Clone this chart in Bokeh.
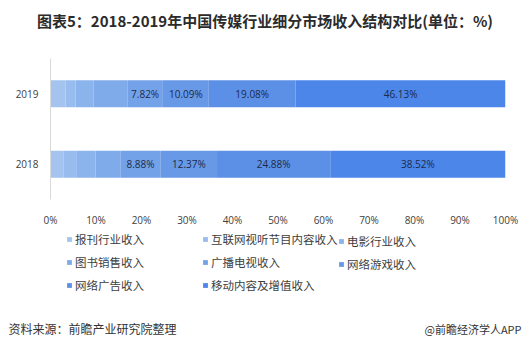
from bokeh.plotting import figure
from bokeh.layouts import column
from bokeh.models import ColumnDataSource, FactorRange, Range1d, FixedTicker, PrintfTickFormatter, Legend, LegendItem, Label
from bokeh.core.properties import value
from bokeh.embed import file_html
from bokeh.resources import INLINE

years = ["2018", "2019"]
segments = ["报刊行业收入", "互联网视听节目内容收入", "电影行业收入", "图书销售收入",
            "广播电视收入", "网络游戏收入", "网络广告收入", "移动内容及增值收入"]
share_2018 = [2.9, 2.9, 4.1, 5.45, 8.88, 12.37, 24.88, 38.52]
share_2019 = [3.3, 2.2, 4.0, 7.38, 7.82, 10.09, 19.08, 46.13]
labeled = [False, False, False, False, True, True, True, True]
colors = ["#a4c4ef", "#98bcee", "#8bb3ec", "#7fabea", "#74a2e8", "#6899e7", "#5b90e6", "#4c86e8"]
x_ticks = [0, 10, 20, 30, 40, 50, 60, 70, 80, 90, 100]
title_text = "图表5：2018-2019年中国传媒行业细分市场收入结构对比(单位：%)"
source_text = "资料来源：前瞻产业研究院整理"
app_text = "@前瞻经济学人APP"

W = 529
H_TOP, H_MAIN, H_BOT = 44, 185, 122
CJK = "Noto Sans CJK SC"
NAN = float("nan")


def blank(h):
    f = figure(width=W, height=h, output_backend="svg", toolbar_location=None,
               x_axis_type=None, y_axis_type=None, x_range=Range1d(0, 1), y_range=Range1d(0, 1),
               min_border=0, min_border_left=0, min_border_right=0,
               min_border_top=0, min_border_bottom=0, frame_align=False)
    f.outline_line_color = None
    f.grid.visible = False
    f.border_fill_color = "white"
    f.background_fill_color = "white"
    return f


# ---- title strip ----
top = blank(H_TOP)
top.add_layout(Label(x=W / 2, y=H_TOP - 20, x_units="screen", y_units="screen", text=title_text,
                     text_align="center", text_baseline="middle", text_font=CJK,
                     text_font_size="15px", text_font_style="bold", text_color="#2b2b2b"))

# ---- main chart ----
p = figure(width=W, height=H_MAIN, output_backend="svg", toolbar_location=None,
           y_range=FactorRange(factors=years), x_range=Range1d(0, 100), frame_align=False,
           min_border_left=50, min_border_right=24, min_border_top=14, min_border_bottom=28)
p.outline_line_color = None
p.background_fill_color = "white"
p.border_fill_color = "white"
p.grid.visible = False

keys = [f"s{i}" for i in range(len(segments))]
data = {"year": years}
for i, k in enumerate(keys):
    data[k] = [share_2018[i], share_2019[i]]
src = ColumnDataSource(data)
p.hbar_stack(keys, y="year", height=0.38, color=colors, source=src, line_color=None)

lx, ly, lt = [], [], []
for yr, vals in zip(years, [share_2018, share_2019]):
    cum = 0
    for i, v in enumerate(vals):
        if labeled[i]:
            lx.append(cum + v / 2)
            ly.append(yr)
            lt.append(f"{v:.2f}%")
        cum += v
p.text(x=lx, y=ly, text=lt, text_align="center", text_baseline="middle",
       text_font=value("Open Sans"), text_font_size="10px", text_color="#1c2b4a")

p.xaxis.ticker = FixedTicker(ticks=x_ticks)
p.xaxis.formatter = PrintfTickFormatter(format="%d%%")
p.xaxis.axis_line_color = None
p.xaxis.major_tick_line_color = None
p.xaxis.minor_tick_line_color = None
p.xaxis.major_label_standoff = 7
p.xaxis.major_label_text_font = "Open Sans"
p.xaxis.major_label_text_font_size = "10px"
p.xaxis.major_label_text_color = "#404040"

p.yaxis.axis_line_color = "#d9d9d9"
p.yaxis.major_tick_line_color = None
p.yaxis.minor_tick_line_color = None
p.yaxis.major_label_standoff = 6
p.yaxis.major_label_text_font = "Open Sans"
p.yaxis.major_label_text_font_size = "10px"
p.yaxis.major_label_text_color = "#404040"

# ---- legend + footer strip ----
bot = blank(H_BOT)
# legend-only swatch renderers (NaN coordinates: nothing drawn in the strip itself)
swatches = [bot.quad(left=[NAN], right=[NAN], top=[NAN], bottom=[NAN], fill_color=c, line_color=None)
            for c in colors]
cols = [[0, 3, 6], [1, 4, 7], [2, 5]]
xs = [66, 202, 338]
for c, xo in zip(cols, xs):
    items = [LegendItem(label=segments[i], renderers=[swatches[i]]) for i in c]
    h = len(c) * 14 + (len(c) - 1) * 7
    top_y = 8  # top of first row, pixels below strip top
    leg = Legend(items=items, location=(xo, H_BOT - top_y - h), orientation="vertical",
                 glyph_width=6, glyph_height=6, label_standoff=3, label_height=14,
                 spacing=7, padding=0, margin=0, border_line_color=None,
                 background_fill_alpha=0, label_text_font=CJK,
                 label_text_font_size="11.5px", label_text_color="#404040")
    bot.add_layout(leg, "center")

bot.add_layout(Label(x=8, y=23, x_units="screen", y_units="screen", text=source_text,
                     text_align="left", text_baseline="middle", text_font=CJK,
                     text_font_size="12px", text_color="#333333"))
bot.add_layout(Label(x=521, y=23, x_units="screen", y_units="screen", text=app_text,
                     text_align="right", text_baseline="middle", text_font=CJK,
                     text_font_size="11px", text_color="#333333"))

layout = column(top, p, bot, spacing=0)
open("out.html", "w").write(file_html(layout, INLINE))
